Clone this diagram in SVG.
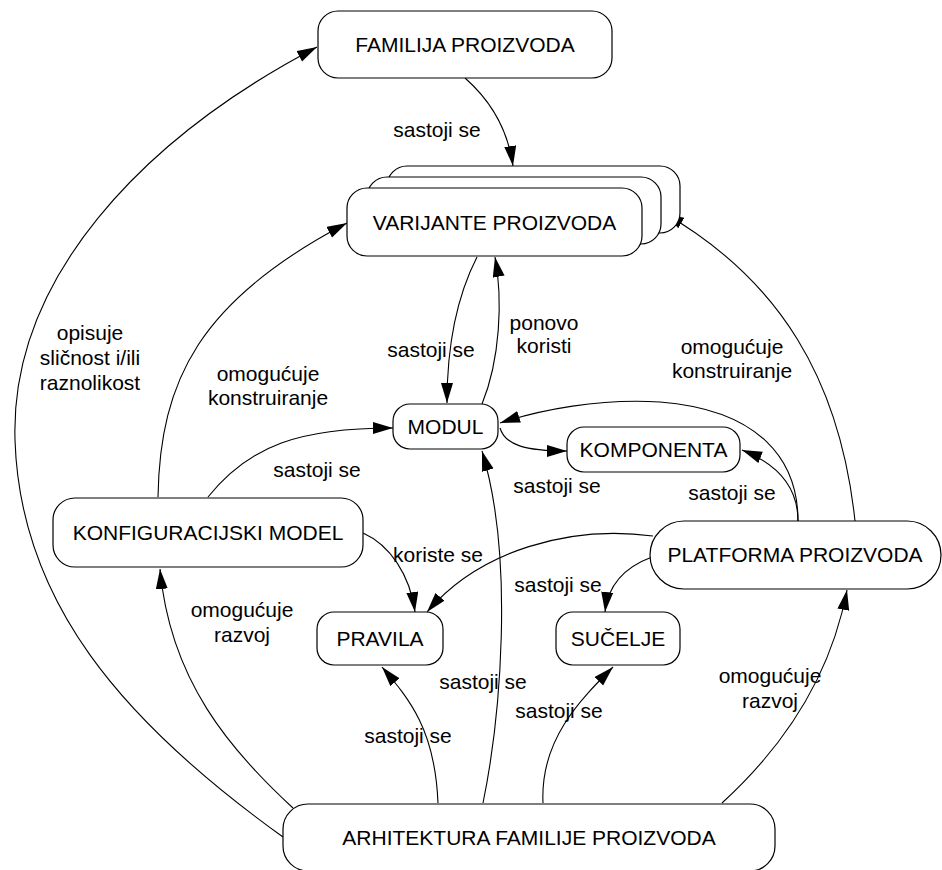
<svg xmlns="http://www.w3.org/2000/svg" width="942" height="870" viewBox="0 0 942 870">
<style>
.n{fill:#fff;stroke:#000;stroke-width:1.2}
.t{font-family:"Liberation Sans",Arial,sans-serif;font-size:21px;fill:#000;text-anchor:middle}
.c{fill:none;stroke:#000;stroke-width:1.1;marker-end:url(#ah)}
</style>
<defs>
<marker id="ah" markerUnits="userSpaceOnUse" markerWidth="21" markerHeight="13" refX="20" refY="6" orient="auto">
<path d="M0,0 L20,6 L0,12 z" fill="#000"/>
</marker>
</defs>
<rect width="942" height="870" fill="#fff"/>
<g id="connectors">
<path class="c" d="M283,837 C120,720 20,600 15,440 C10,280 140,140 317,47"/>
<path class="c" d="M293,808 C230,750 170,680 160,569"/>
<path class="c" d="M158,497 C160,380 200,300 347,223"/>
<path class="c" d="M208,497 C250,445 300,428 393,428"/>
<path class="c" d="M363,533 C390,545 410,575 415,612"/>
<path class="c" d="M653,536 C570,525 480,550 427,612"/>
<path class="c" d="M652,557 C625,567 608,585 605,612"/>
<path class="c" d="M798,521 C798,490 780,465 742,450"/>
<path class="c" d="M798,521 C798,460 760,410 660,402 C600,398 540,410 500,423"/>
<path class="c" d="M855,521 C840,380 780,280 664,213"/>
<path class="c" d="M722,803 C780,750 830,680 847,590"/>
<path class="c" d="M543,803 C540,740 580,700 613,667"/>
<path class="c" d="M438,803 C435,730 410,700 382,667"/>
<path class="c" d="M483,803 C500,720 515,560 482,451"/>
<path class="c" d="M477,257 C455,300 447,350 447,403"/>
<path class="c" d="M482,404 C500,360 503,300 495,257"/>
<path class="c" d="M500,428 C505,445 525,451 567,451"/>
<path class="c" d="M465,78 C490,100 508,130 513,166"/>
</g>
<g id="labels">
<text class="t" x="437" y="137">sastoji se</text>
<text class="t" x="90" y="340">opisuje</text>
<text class="t" x="90" y="365">sličnost i/ili</text>
<text class="t" x="90" y="390">raznolikost</text>
<text class="t" x="268" y="381">omogućuje</text>
<text class="t" x="268" y="405">konstruiranje</text>
<text class="t" x="317" y="477">sastoji se</text>
<text class="t" x="431" y="357">sastoji se</text>
<text class="t" x="544" y="330">ponovo</text>
<text class="t" x="544" y="353">koristi</text>
<text class="t" x="732" y="354">omogućuje</text>
<text class="t" x="732" y="378">konstruiranje</text>
<text class="t" x="557" y="493">sastoji se</text>
<text class="t" x="732" y="500">sastoji se</text>
<text class="t" x="438" y="562">koriste se</text>
<text class="t" x="558" y="592">sastoji se</text>
<text class="t" x="242" y="617">omogućuje</text>
<text class="t" x="242" y="642">razvoj</text>
<text class="t" x="408" y="743">sastoji se</text>
<text class="t" x="483" y="689">sastoji se</text>
<text class="t" x="559" y="718">sastoji se</text>
<text class="t" x="770" y="683">omogućuje</text>
<text class="t" x="770" y="708">razvoj</text>
</g>
<g id="familija">
<rect class="n" x="318" y="11" width="294" height="67" rx="20"/>
<text class="t" x="465" y="52">FAMILIJA PROIZVODA</text>
</g>
<g id="varijante">
<rect class="n" x="387" y="166" width="293" height="67" rx="20"/>
<rect class="n" x="367" y="177" width="294" height="67" rx="20"/>
<rect class="n" x="347" y="188" width="295" height="68" rx="20"/>
<text class="t" x="494.5" y="229.5">VARIJANTE PROIZVODA</text>
</g>
<g id="modul">
<rect class="n" x="393" y="404" width="105" height="45" rx="17"/>
<text class="t" x="445.5" y="434">MODUL</text>
</g>
<g id="komponenta">
<rect class="n" x="567" y="427" width="173" height="45" rx="17"/>
<text class="t" x="653.5" y="457">KOMPONENTA</text>
</g>
<g id="konfiguracijski">
<rect class="n" x="53" y="498" width="310" height="69" rx="22"/>
<text class="t" x="208" y="540">KONFIGURACIJSKI MODEL</text>
</g>
<g id="pravila">
<rect class="n" x="317" y="612" width="126" height="53" rx="17"/>
<text class="t" x="380" y="646">PRAVILA</text>
</g>
<g id="sucelje">
<rect class="n" x="556" y="612" width="124" height="53" rx="17"/>
<text class="t" x="618" y="646">SUČELJE</text>
</g>
<g id="platforma">
<rect class="n" x="650" y="521" width="291" height="68" rx="34"/>
<text class="t" x="795" y="562">PLATFORMA PROIZVODA</text>
</g>
<g id="arhitektura">
<rect class="n" x="283" y="804" width="492" height="67" rx="25"/>
<text class="t" x="529" y="845">ARHITEKTURA FAMILIJE PROIZVODA</text>
</g>
</svg>
